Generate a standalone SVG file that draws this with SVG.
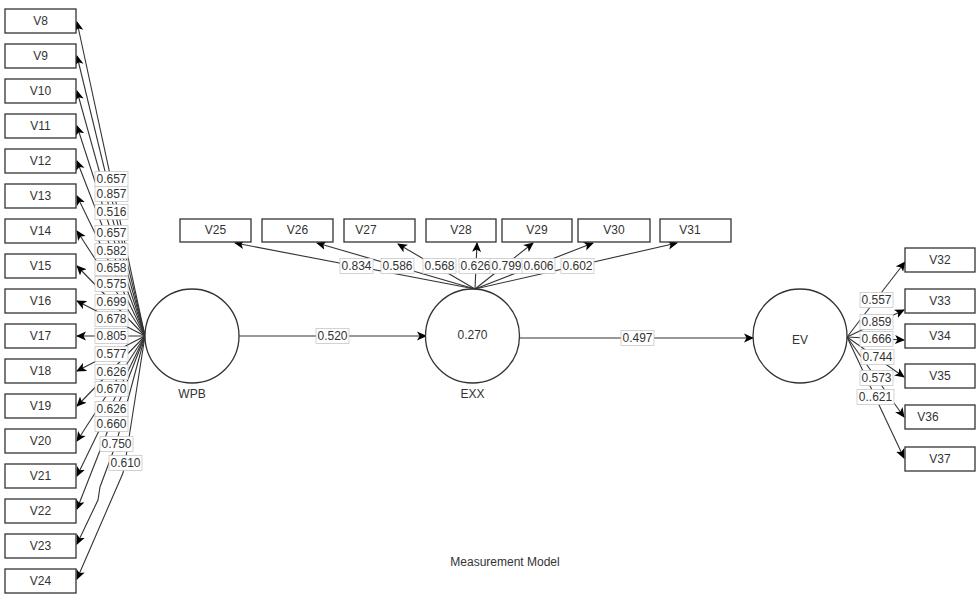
<svg xmlns="http://www.w3.org/2000/svg" width="976" height="594" viewBox="0 0 976 594">
<defs>
<marker id="arr" markerUnits="userSpaceOnUse" markerWidth="10" markerHeight="10" viewBox="0 0 10 10" refX="9" refY="5" orient="auto">
<path d="M0,0.5 L10,5 L0,9.5 L2.5,5 z" fill="#000"/>
</marker>
</defs>
<style>
.box{fill:#fff;stroke:#333;stroke-width:1.3}
.circ{fill:#fff;stroke:#333;stroke-width:1.3}
.t{font-family:"Liberation Sans",Arial,sans-serif;font-size:12px;fill:#333;text-anchor:middle;dominant-baseline:central}
.e{fill:none;stroke:#333;stroke-width:1.1;marker-end:url(#arr)}
.lb{fill:#fff;stroke:#c8c8c8;stroke-width:0.8}
.lt{font-family:"Liberation Sans",Arial,sans-serif;font-size:12px;fill:#333;text-anchor:middle;dominant-baseline:central}
</style>
<rect width="976" height="594" fill="#fff"/>
<g id="connectors">
<path class="e" d="M145,336 L77,22"/>
<path class="e" d="M145,336 L77,56"/>
<path class="e" d="M145,336 L77,91"/>
<path class="e" d="M145,336 L77,126"/>
<path class="e" d="M145,336 L77,161"/>
<path class="e" d="M145,336 L77,196"/>
<path class="e" d="M145,336 L77,231"/>
<path class="e" d="M145,336 L77,266"/>
<path class="e" d="M145,336 L77,301"/>
<path class="e" d="M145,336 L77,336"/>
<path class="e" d="M145,336 L77,371"/>
<path class="e" d="M145,336 L77,406"/>
<path class="e" d="M145,336 L77,441"/>
<path class="e" d="M145,336 L77,476"/>
<path class="e" d="M145,336 L77,509"/>
<path class="e" d="M145,336 L116,444 L100,487 L98,500 L77,544"/>
<path class="e" d="M145,336 L125,463 L123,473 L77,579"/>
<path class="e" d="M239,336 L426,336"/>
<path class="e" d="M475,289 L235,243"/>
<path class="e" d="M475,289 L317,243"/>
<path class="e" d="M475,289 L398,244"/>
<path class="e" d="M475,289 L477,243"/>
<path class="e" d="M475,289 L533,243"/>
<path class="e" d="M475,289 L593,243"/>
<path class="e" d="M475,289 L677,243"/>
<path class="e" d="M519,338 L753,338"/>
<path class="e" d="M847,337 L905,262"/>
<path class="e" d="M847,337 L904,310"/>
<path class="e" d="M847,337 L904,340"/>
<path class="e" d="M847,337 L904,377"/>
<path class="e" d="M847,337 L904,417"/>
<path class="e" d="M847,337 L904,458"/>
<g id="edge-labels">
<rect class="lb" x="95" y="171.5" width="33" height="15"/><text class="lt" x="111.5" y="179">0.657</text>
<rect class="lb" x="95" y="186.5" width="33" height="15"/><text class="lt" x="111.5" y="194">0.857</text>
<rect class="lb" x="95" y="204.5" width="33" height="15"/><text class="lt" x="111.5" y="212">0.516</text>
<rect class="lb" x="95" y="225.5" width="33" height="15"/><text class="lt" x="111.5" y="233">0.657</text>
<rect class="lb" x="95" y="243.5" width="33" height="15"/><text class="lt" x="111.5" y="251">0.582</text>
<rect class="lb" x="95" y="260.5" width="33" height="15"/><text class="lt" x="111.5" y="268">0.658</text>
<rect class="lb" x="95" y="276.5" width="33" height="15"/><text class="lt" x="111.5" y="284">0.575</text>
<rect class="lb" x="95" y="294.5" width="33" height="15"/><text class="lt" x="111.5" y="302">0.699</text>
<rect class="lb" x="95" y="311.5" width="33" height="15"/><text class="lt" x="111.5" y="319">0.678</text>
<rect class="lb" x="95" y="328.5" width="33" height="15"/><text class="lt" x="111.5" y="336">0.805</text>
<rect class="lb" x="95" y="346.5" width="33" height="15"/><text class="lt" x="111.5" y="354">0.577</text>
<rect class="lb" x="95" y="364.5" width="33" height="15"/><text class="lt" x="111.5" y="372">0.626</text>
<rect class="lb" x="95" y="381.5" width="33" height="15"/><text class="lt" x="111.5" y="389">0.670</text>
<rect class="lb" x="95" y="401.5" width="33" height="15"/><text class="lt" x="111.5" y="409">0.626</text>
<rect class="lb" x="95" y="416.5" width="33" height="15"/><text class="lt" x="111.5" y="424">0.660</text>
<rect class="lb" x="100" y="436.5" width="33" height="15"/><text class="lt" x="116.5" y="444">0.750</text>
<rect class="lb" x="109" y="455.5" width="33" height="15"/><text class="lt" x="125.5" y="463">0.610</text>
<rect class="lb" x="316" y="328.5" width="33" height="15"/><text class="lt" x="332.5" y="336">0.520</text>
<rect class="lb" x="340" y="258.5" width="33" height="15"/><text class="lt" x="356.5" y="266">0.834</text>
<rect class="lb" x="381" y="258.5" width="33" height="15"/><text class="lt" x="397.5" y="266">0.586</text>
<rect class="lb" x="423" y="258.5" width="33" height="15"/><text class="lt" x="439.5" y="266">0.568</text>
<rect class="lb" x="459" y="258.5" width="33" height="15"/><text class="lt" x="475.5" y="266">0.626</text>
<rect class="lb" x="490" y="258.5" width="33" height="15"/><text class="lt" x="506.5" y="266">0.799</text>
<rect class="lb" x="522" y="258.5" width="33" height="15"/><text class="lt" x="538.5" y="266">0.606</text>
<rect class="lb" x="561" y="258.5" width="33" height="15"/><text class="lt" x="577.5" y="266">0.602</text>
<rect class="lb" x="621" y="330.5" width="33" height="15"/><text class="lt" x="637.5" y="338">0.497</text>
<rect class="lb" x="860" y="292.5" width="33" height="15"/><text class="lt" x="876.5" y="300">0.557</text>
<rect class="lb" x="860" y="314.5" width="33" height="15"/><text class="lt" x="876.5" y="322">0.859</text>
<rect class="lb" x="860" y="331.5" width="33" height="15"/><text class="lt" x="876.5" y="339">0.666</text>
<rect class="lb" x="861" y="349.5" width="33" height="15"/><text class="lt" x="877.5" y="357">0.744</text>
<rect class="lb" x="860" y="370.5" width="33" height="15"/><text class="lt" x="876.5" y="378">0.573</text>
<rect class="lb" x="857" y="389.5" width="37" height="15"/><text class="lt" x="875.5" y="397">0..621</text>
</g>
</g>
<g id="WPB"><circle class="circ" cx="192" cy="336" r="47"/><text class="t" x="192" y="394">WPB</text></g>
<g id="EXX"><circle class="circ" cx="472.5" cy="336" r="47"/><text class="t" x="472.5" y="335">0.270</text><text class="t" x="472.5" y="394">EXX</text></g>
<g id="EV"><circle class="circ" cx="800" cy="336" r="47"/><text class="t" x="800" y="340">EV</text></g>
<g id="V8"><rect class="box" x="5" y="9" width="71" height="24"/><text class="t" x="40.5" y="21">V8</text></g>
<g id="V9"><rect class="box" x="5" y="44" width="71" height="24"/><text class="t" x="40.5" y="56">V9</text></g>
<g id="V10"><rect class="box" x="5" y="79" width="71" height="24"/><text class="t" x="40.5" y="91">V10</text></g>
<g id="V11"><rect class="box" x="5" y="114" width="71" height="24"/><text class="t" x="40.5" y="126">V11</text></g>
<g id="V12"><rect class="box" x="5" y="149" width="71" height="24"/><text class="t" x="40.5" y="161">V12</text></g>
<g id="V13"><rect class="box" x="5" y="184" width="71" height="24"/><text class="t" x="40.5" y="196">V13</text></g>
<g id="V14"><rect class="box" x="5" y="219" width="71" height="24"/><text class="t" x="40.5" y="231">V14</text></g>
<g id="V15"><rect class="box" x="5" y="254" width="71" height="24"/><text class="t" x="40.5" y="266">V15</text></g>
<g id="V16"><rect class="box" x="5" y="289" width="71" height="24"/><text class="t" x="40.5" y="301">V16</text></g>
<g id="V17"><rect class="box" x="5" y="324" width="71" height="24"/><text class="t" x="40.5" y="336">V17</text></g>
<g id="V18"><rect class="box" x="5" y="359" width="71" height="24"/><text class="t" x="40.5" y="371">V18</text></g>
<g id="V19"><rect class="box" x="5" y="394" width="71" height="24"/><text class="t" x="40.5" y="406">V19</text></g>
<g id="V20"><rect class="box" x="5" y="429" width="71" height="24"/><text class="t" x="40.5" y="441">V20</text></g>
<g id="V21"><rect class="box" x="5" y="464" width="71" height="24"/><text class="t" x="40.5" y="476">V21</text></g>
<g id="V22"><rect class="box" x="5" y="499" width="71" height="24"/><text class="t" x="40.5" y="511">V22</text></g>
<g id="V23"><rect class="box" x="5" y="534" width="71" height="24"/><text class="t" x="40.5" y="546">V23</text></g>
<g id="V24"><rect class="box" x="5" y="569" width="71" height="24"/><text class="t" x="40.5" y="581">V24</text></g>
<g id="V25"><rect class="box" x="180" y="219" width="71" height="23"/><text class="t" x="215.5" y="230">V25</text></g>
<g id="V26"><rect class="box" x="262" y="219" width="71" height="23"/><text class="t" x="297.5" y="230">V26</text></g>
<g id="V27"><rect class="box" x="344" y="219" width="71" height="23"/><text class="t" x="366" y="230">V27</text></g>
<g id="V28"><rect class="box" x="426" y="219" width="70" height="23"/><text class="t" x="461" y="230">V28</text></g>
<g id="V29"><rect class="box" x="502" y="219" width="70" height="23"/><text class="t" x="537" y="230">V29</text></g>
<g id="V30"><rect class="box" x="578" y="219" width="72" height="23"/><text class="t" x="614" y="230">V30</text></g>
<g id="V31"><rect class="box" x="660" y="219" width="71" height="23"/><text class="t" x="690" y="230">V31</text></g>
<g id="V32"><rect class="box" x="905" y="248" width="70" height="24"/><text class="t" x="940" y="260">V32</text></g>
<g id="V33"><rect class="box" x="905" y="289" width="70" height="24"/><text class="t" x="940" y="301">V33</text></g>
<g id="V34"><rect class="box" x="905" y="324" width="70" height="24"/><text class="t" x="940" y="336">V34</text></g>
<g id="V35"><rect class="box" x="905" y="364" width="70" height="24"/><text class="t" x="940" y="376">V35</text></g>
<g id="V36"><rect class="box" x="905" y="405" width="70" height="24"/><text class="t" x="928" y="417">V36</text></g>
<g id="V37"><rect class="box" x="905" y="447" width="70" height="24"/><text class="t" x="940" y="459">V37</text></g>
<text class="lt" x="505" y="562">Measurement Model</text>
</svg>
